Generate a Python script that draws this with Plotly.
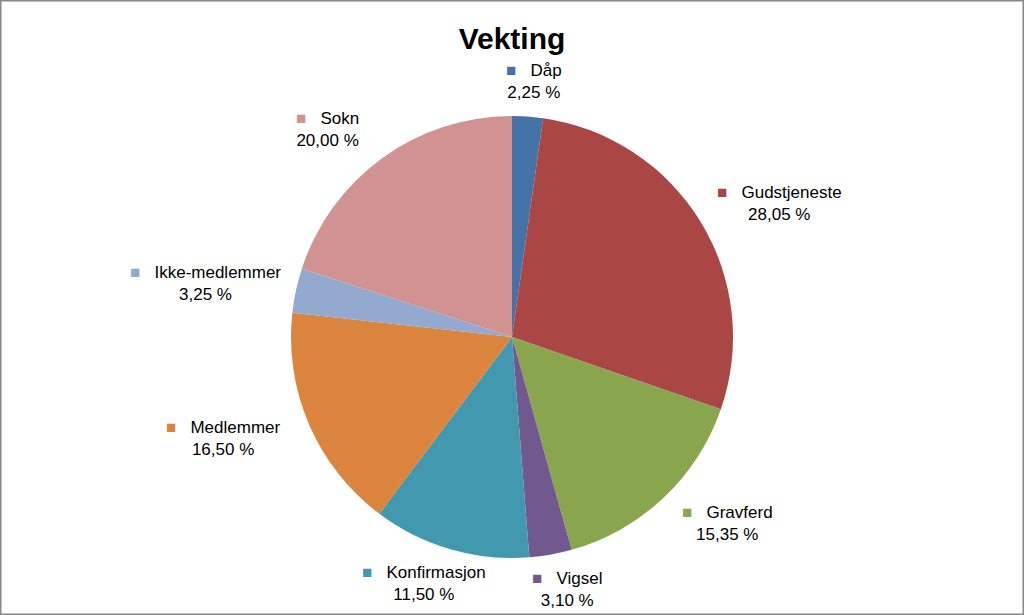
import math
import plotly.graph_objects as go

categories = ["Dåp", "Gudstjeneste", "Gravferd", "Vigsel", "Konfirmasjon",
              "Medlemmer", "Ikke-medlemmer", "Sokn"]
values = [2.25, 28.05, 15.35, 3.10, 11.50, 16.50, 3.25, 20.00]
colors = ["#4572A7", "#AA4643", "#89A54E", "#71588F", "#4198AF",
          "#DB843D", "#93A9CF", "#D19392"]

W, H = 1024, 615
cx, cy, R = 512, 337, 221  # pixel center and radius of pie

dom_x = [(cx - R) / W, (cx + R) / W]
dom_y = [(H - cy - R) / H, (H - cy + R) / H]

fig = go.Figure()
fig.add_trace(go.Pie(
    labels=categories, values=values, sort=False, direction="clockwise",
    rotation=0, marker=dict(colors=colors, line=dict(color="white", width=0)),
    textinfo="none", hoverinfo="label+percent", showlegend=False,
    domain=dict(x=dom_x, y=dom_y),
))

def fmt(v):
    return f"{v:.2f}".replace(".", ",") + " %"

total = sum(values)
cum = 0.0
rx, ry = 1.42 * R, 1.16 * R
for name, v, c in zip(categories, values, colors):
    mid = (cum + v / 2) / total * 2 * math.pi
    cum += v
    px = cx + rx * math.sin(mid)
    py = cy - ry * math.cos(mid)
    text = (f'<span style="color:{c};font-size:17px">■</span>'
            f'&nbsp;&nbsp;&nbsp;{name}<br>{fmt(v)}')
    fig.add_annotation(
        x=px / W, y=1 - py / H, xref="paper", yref="paper",
        text=text, showarrow=False, xanchor="center", yanchor="middle",
        align="center",
        font=dict(family="Liberation Sans, Arial, sans-serif", size=17,
                  color="#000000"),
    )

fig.update_layout(
    width=W, height=H,
    margin=dict(l=0, r=0, t=0, b=0),
    paper_bgcolor="white", plot_bgcolor="white",
    title=dict(text="<b>Vekting</b>", x=0.5, xanchor="center",
               y=1 - 38 / H, yanchor="middle",
               font=dict(family="Liberation Sans, Arial, sans-serif", size=30,
                         color="#000000")),
    shapes=[dict(type="rect", xref="paper", yref="paper", x0=0, y0=0,
                 x1=1, y1=1, line=dict(color="#878787", width=3))],
)

fig.write_html("out.html")
